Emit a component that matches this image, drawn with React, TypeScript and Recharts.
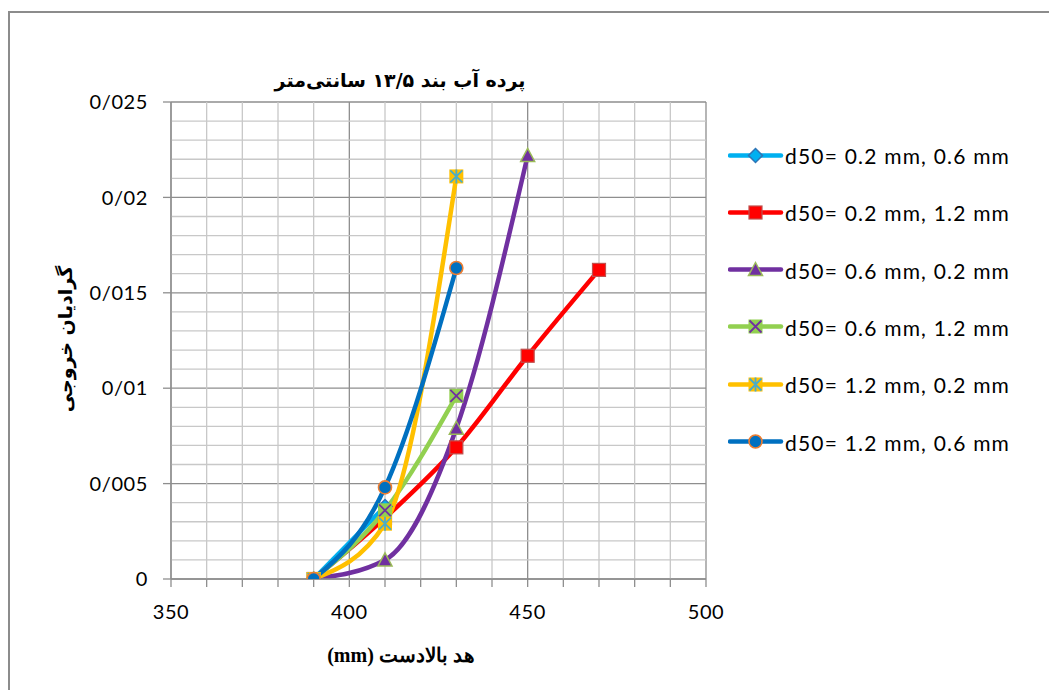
import React from 'react';
import { LineChart, Line, XAxis, YAxis, CartesianGrid } from 'recharts';

// upstream head (mm) measured for each run
const heads = [390, 410, 430, 450, 470];

// exit gradient per series
const grad02_06 = [0, 0.0038];
const grad02_12 = [0, 0.0032, 0.0069, 0.0117, 0.0162];
const grad06_02 = [0, 0.001, 0.0079, 0.0222];
const grad06_12 = [0, 0.0036, 0.0096];
const grad12_02 = [0, 0.0029, 0.0211];
const grad12_06 = [0, 0.0048, 0.0163];

const seriesNames = [
  'd50= 0.2 mm, 0.6 mm',
  'd50= 0.2 mm, 1.2 mm',
  'd50= 0.6 mm, 0.2 mm',
  'd50= 0.6 mm, 1.2 mm',
  'd50= 1.2 mm, 0.2 mm',
  'd50= 1.2 mm, 0.6 mm',
];

const headTicks = [350, 360, 370, 380, 390, 400, 410, 420, 430, 440, 450, 460, 470, 480, 490, 500];
const headMajor = [350, 400, 450, 500];
const headRange = [350, 500];
const gradTicks = [0, 0.005, 0.01, 0.015, 0.02, 0.025];
const gradMinor = [
  0.001, 0.002, 0.003, 0.004, 0.006, 0.007, 0.008, 0.009, 0.011, 0.012, 0.013, 0.014,
  0.016, 0.017, 0.018, 0.019, 0.021, 0.022, 0.023, 0.024,
];
const gradMax = 0.025;

const title = 'پرده آب بند ۱۳/۵ سانتی‌متر';
const xTitle = 'هد بالادست (mm)';
const yTitle = 'گرادیان خروجی';

type Kind = 'diamond' | 'square' | 'triangle' | 'cross' | 'star' | 'circle';

const series: { name: string; values: number[]; color: string; kind: Kind }[] = [
  { name: seriesNames[0], values: grad02_06, color: '#00b0f0', kind: 'diamond' },
  { name: seriesNames[1], values: grad02_12, color: '#ff0000', kind: 'square' },
  { name: seriesNames[2], values: grad06_02, color: '#7030a0', kind: 'triangle' },
  { name: seriesNames[3], values: grad06_12, color: '#92d050', kind: 'cross' },
  { name: seriesNames[4], values: grad12_02, color: '#ffc000', kind: 'star' },
  { name: seriesNames[5], values: grad12_06, color: '#0070c0', kind: 'circle' },
];

const FONT = 'Lato, "Liberation Sans", sans-serif';
const MINOR = '#c8c8c8';
const MAJOR = '#8e8e8e';

function Marker({ kind, cx, cy }: { kind: Kind; cx: number; cy: number }) {
  switch (kind) {
    case 'diamond':
      return (
        <polygon
          points={`${cx},${cy - 7} ${cx + 7},${cy} ${cx},${cy + 7} ${cx - 7},${cy}`}
          fill="#00b0f0"
          stroke="#2e75b6"
          strokeWidth={1.5}
        />
      );
    case 'square':
      return <rect x={cx - 6.5} y={cy - 6.5} width={13} height={13} fill="#ff0000" stroke="#c0504d" strokeWidth={1.2} />;
    case 'triangle':
      return (
        <polygon
          points={`${cx},${cy - 7} ${cx + 7},${cy + 6} ${cx - 7},${cy + 6}`}
          fill="#7030a0"
          stroke="#9bbb59"
          strokeWidth={1.5}
        />
      );
    case 'cross':
      return (
        <g>
          <rect x={cx - 7} y={cy - 7} width={14} height={14} fill="#92d050" />
          <path d={`M${cx - 6},${cy - 6}L${cx + 6},${cy + 6}M${cx + 6},${cy - 6}L${cx - 6},${cy + 6}`} stroke="#7030a0" strokeWidth={1.8} />
        </g>
      );
    case 'star':
      return (
        <g>
          <rect x={cx - 7} y={cy - 7} width={14} height={14} fill="#ffc000" />
          <path
            d={`M${cx - 6},${cy - 6}L${cx + 6},${cy + 6}M${cx + 6},${cy - 6}L${cx - 6},${cy + 6}M${cx},${cy - 7}L${cx},${cy + 7}`}
            stroke="#4bacc6"
            strokeWidth={1.8}
          />
        </g>
      );
    default:
      return <circle cx={cx} cy={cy} r={6.5} fill="#0070c0" stroke="#ed7d31" strokeWidth={1.6} />;
  }
}

export default function App() {
  const W = 1041;
  const H = 682;
  const tickStyle = { fill: '#000', fontSize: 20, fontFamily: FONT, letterSpacing: 0.6 };

  return (
    <div style={{ position: 'relative', width: W, height: H, fontFamily: FONT }}>
      <div
        style={{
          position: 'absolute',
          left: 0,
          top: 3,
          right: 0,
          bottom: 0,
          borderLeft: '2px solid #8c8c8c',
          borderTop: '2px solid #8c8c8c',
        }}
      />
      <LineChart width={W} height={H} margin={{ top: 94, right: 343, bottom: 51, left: 63 }}>
        <CartesianGrid
          stroke={MAJOR}
          strokeWidth={1.3}
          vertical={(p: any) => (
            <line
              key={`v-${p.index}`}
              x1={p.x1}
              x2={p.x2}
              y1={p.y1}
              y2={p.y2}
              stroke={headMajor.includes(headTicks[p.index]) ? MAJOR : MINOR}
              strokeWidth={1.3}
            />
          )}
        />
        <XAxis
          type="number"
          dataKey="x"
          domain={[350, 500]}
          ticks={headTicks}
          interval={0}
          allowDataOverflow
          height={60}
          tickSize={8}
          tickMargin={18}
          stroke={MAJOR}
          strokeWidth={1.3}
          tick={tickStyle}
          tickFormatter={(v: number) => (v % 50 === 0 ? String(v) : '')}
        />
        <YAxis
          type="number"
          dataKey="y"
          domain={[0, gradMax]}
          ticks={gradTicks}
          interval={0}
          allowDataOverflow
          width={100}
          tickSize={8}
          tickMargin={15}
          stroke={MAJOR}
          strokeWidth={1.3}
          tick={tickStyle}
          tickFormatter={(v: number) => String(v).replace('.', '/')}
        />
        {/* minor horizontal gridlines, drawn through the axis scales */}
        {gradMinor.map((g) => (
          <Line
            key={`minor-${g}`}
            data={headRange.map((h) => ({ x: h, y: g }))}
            dataKey="y"
            stroke={MINOR}
            strokeWidth={1.3}
            dot={false}
            activeDot={false}
            legendType="none"
            isAnimationActive={false}
          />
        ))}
        {series.map((s) => (
          <Line
            key={s.name}
            name={s.name}
            data={s.values.map((v, i) => ({ x: heads[i], y: v }))}
            dataKey="y"
            type="monotone"
            stroke={s.color}
            strokeWidth={4.5}
            isAnimationActive={false}
            dot={(p: any) => <Marker key={`${s.kind}-${p.index}`} kind={s.kind} cx={p.cx} cy={p.cy} />}
            activeDot={false}
          />
        ))}
      </LineChart>

      <div
        style={{
          position: 'absolute',
          left: 392,
          top: 72,
          transform: 'translate(-50%, -50%)',
          fontWeight: 'bold',
          fontSize: 19,
          whiteSpace: 'nowrap',
          direction: 'rtl',
          fontFamily: '"DejaVu Sans", sans-serif',
        }}
      >
        {title}
      </div>

      <div
        style={{
          position: 'absolute',
          left: 393,
          top: 647,
          transform: 'translate(-50%, -50%)',
          fontWeight: 'bold',
          fontSize: 20,
          whiteSpace: 'nowrap',
          direction: 'rtl',
          fontFamily: '"Liberation Serif", "DejaVu Serif", serif',
        }}
      >
        {xTitle}
      </div>

      <div
        style={{
          position: 'absolute',
          left: 57,
          top: 331,
          transform: 'translate(-50%, -50%) rotate(-90deg)',
          fontWeight: 'bold',
          fontSize: 19,
          whiteSpace: 'nowrap',
          direction: 'rtl',
          fontFamily: '"DejaVu Sans", sans-serif',
        }}
      >
        {yTitle}
      </div>

      <div style={{ position: 'absolute', left: 720, top: 147 }}>
        {series.map((s, i) => (
          <div
            key={s.name}
            style={{
              position: 'absolute',
              left: 0,
              top: i * 57.3,
              transform: 'translateY(-50%)',
              display: 'flex',
              alignItems: 'center',
              whiteSpace: 'nowrap',
            }}
          >
            <svg width={56} height={18} style={{ display: 'block' }}>
              <line x1={2} y1={9} x2={53} y2={9} stroke={s.color} strokeWidth={4.5} strokeLinecap="round" />
              <Marker kind={s.kind} cx={27.5} cy={9} />
            </svg>
            <span style={{ fontSize: 21, letterSpacing: 1.2, color: '#000', marginLeft: 1 }}>{s.name}</span>
          </div>
        ))}
      </div>
    </div>
  );
}
